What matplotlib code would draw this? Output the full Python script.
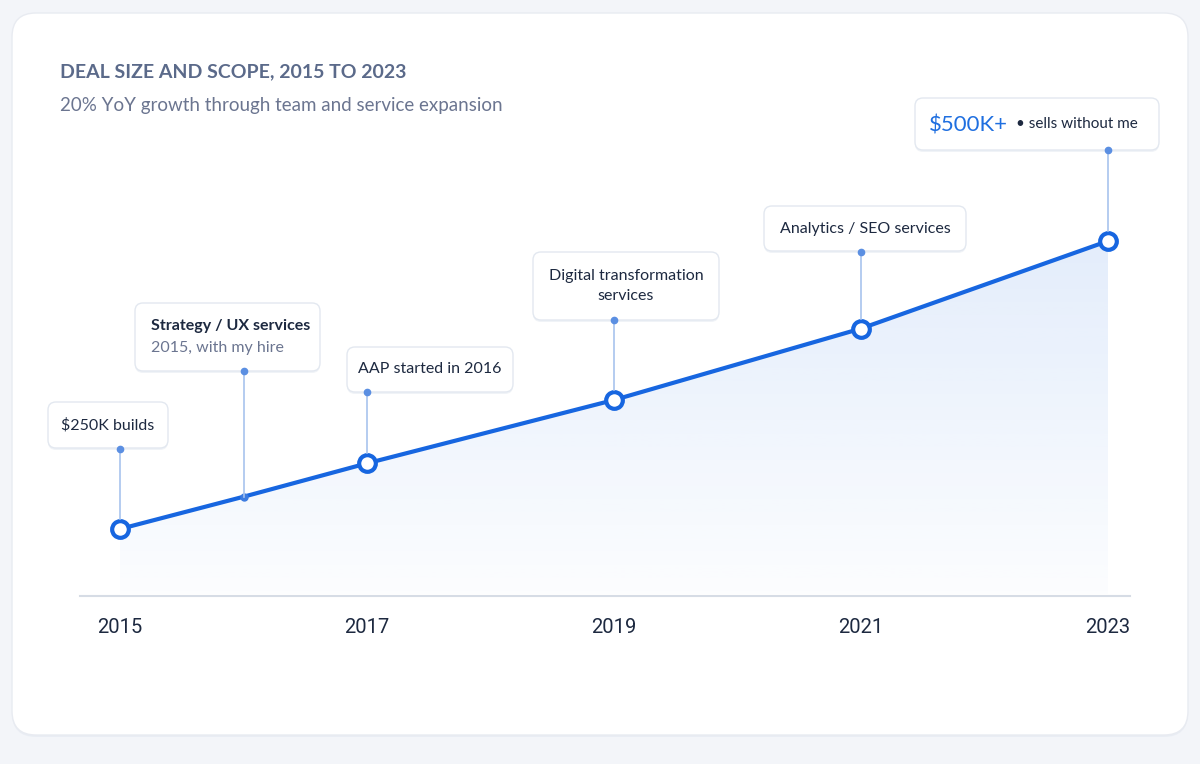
import matplotlib
matplotlib.use("Agg")
import matplotlib.pyplot as plt
import numpy as np
from matplotlib.patches import FancyBboxPatch
from matplotlib.transforms import Affine2D

plt.rcParams["font.family"] = ["Lato", "DejaVu Sans"]

# data (deal size, $K)
years = [2015, 2016, 2017, 2019, 2021, 2023]
deal_size = [250, 278, 307, 362, 424, 500]
tick_years = [2015, 2017, 2019, 2021, 2023]

title = "DEAL SIZE AND SCOPE, 2015 TO 2023"
subtitle = "20% YoY growth through team and service expansion"

LINE = "#1766e0"
NAVY = "#1d2940"
STEM = "#a8c3ee"

W, H = 1200, 764
fig = plt.figure(figsize=(W / 100, H / 100), dpi=100)
fig.patch.set_facecolor("#f3f5f9")
# pixel transform, origin top-left
px = Affine2D().scale(1 / W, -1 / H).translate(0, 1) + fig.transFigure


def card(x, y, w, h, r, shadow=True, ec="#e3e8f0", z=1):
    if shadow:
        fig.patches.append(FancyBboxPatch((x, y + 2), w, h, boxstyle=f"round,pad=0,rounding_size={r}",
                                          transform=px, fc="#dfe5ee", ec="none", alpha=0.45, zorder=z - 0.1))
    fig.patches.append(FancyBboxPatch((x, y), w, h, boxstyle=f"round,pad=0,rounding_size={r}",
                                      transform=px, fc="white", ec=ec, lw=1, zorder=z))


# main card
card(12, 13, 1176, 722, 24, ec="#e8ebf1", z=-1)

fig.text(60, 72, title, transform=px, fontsize=14, fontweight="bold", color="#5b6a8a",
         va="center", ha="left")
fig.text(60, 106, subtitle, transform=px, fontsize=13.5, color="#6b7590", va="center", ha="left")

# axes area: baseline at y=596 px, x 80..1130 px
x_left, x_right, y_base, y_top = 80, 1130, 596, 90
ax = fig.add_axes([x_left / W, 1 - y_base / H, (x_right - x_left) / W, (y_base - y_top) / H])
ax.set_zorder(0)
ax.set_facecolor("none")
ppy = (1108 - 120) / (tick_years[-1] - tick_years[0])
ax.set_xlim(tick_years[0] - (120 - x_left) / ppy, tick_years[-1] + (x_right - 1108) / ppy)
ppk = (529 - 241) / (deal_size[-1] - deal_size[0])
ax.set_ylim(deal_size[0] - (y_base - 529) / ppk, deal_size[-1] + (241 - y_top) / ppk)
for s in ax.spines.values():
    s.set_visible(False)
ax.spines["bottom"].set_visible(True)
ax.spines["bottom"].set_color("#d6dce5")
ax.spines["bottom"].set_linewidth(1.5)
ax.set_yticks([])
ax.set_xticks(tick_years)
ax.set_xticklabels([str(y) for y in tick_years], fontsize=14.5, color=NAVY,
                   family=["Roboto", "DejaVu Sans"])
ax.tick_params(axis="x", length=0, pad=16)

# gradient area under the line
y0 = ax.get_ylim()[0]
poly = ax.fill_between(years, deal_size, y0, facecolor="none", edgecolor="none")
grad = np.zeros((256, 1, 4))
c = matplotlib.colors.to_rgb(LINE)
grad[..., :3] = c
grad[:, 0, 3] = np.linspace(0.015, 0.12, 256)
img = ax.imshow(grad, extent=[years[0], years[-1], y0 + 2, max(deal_size)], origin="lower",
                aspect="auto", zorder=1)
img.set_clip_path(poly.get_paths()[0], transform=ax.transData)

ax.plot(years, deal_size, color=LINE, lw=3, zorder=3, solid_capstyle="round")
major = [i for i, y in enumerate(years) if y in tick_years]
ax.plot([years[i] for i in major], [deal_size[i] for i in major], "o", ms=12, mfc="white",
        mec=LINE, mew=3, zorder=4)
minor = [i for i, y in enumerate(years) if y not in tick_years]
ax.plot([years[i] for i in minor], [deal_size[i] for i in minor], "o", ms=5, color="#3d7ce0", zorder=4)

# annotations: point index, stem top (px), box (x, y, w, h) in px
notes = [
    (0, 449, (48, 402, 120, 46)),
    (1, 371, (135, 303, 185, 68)),
    (2, 392, (347, 347, 166, 45)),
    (3, 320, (533, 252, 186, 68)),
    (4, 252, (764, 206, 202, 45)),
    (5, 150, (915, 98, 244, 52)),
]
for idx, top, (bx, by, bw, bh) in notes:
    disp = ax.transData.transform((years[idx], deal_size[idx]))
    sx, sy = px.inverted().transform(disp)
    gap = 10 if idx in major else 0
    fig.lines.append(plt.Line2D([sx, sx], [top, sy - gap], transform=px, color=STEM, lw=1.2, zorder=2))
    fig.lines.append(plt.Line2D([sx], [top], transform=px, marker="o", ms=4.5, color="#5b8fe2", zorder=2))
    card(bx, by, bw, bh, 8, z=1.5)

fs = 11.5
fig.text(108, 425, "$250K builds", transform=px, fontsize=fs, color=NAVY, ha="center", va="center", zorder=3)
fig.text(151, 326, "Strategy / UX services", transform=px, fontsize=fs, fontweight="bold", color=NAVY,
         ha="left", va="center", zorder=3)
fig.text(151, 348, "2015, with my hire", transform=px, fontsize=fs, color="#6b7590",
         ha="left", va="center", zorder=3)
fig.text(430, 369, "AAP started in 2016", transform=px, fontsize=fs, color=NAVY, ha="center", va="center", zorder=3)
fig.text(626, 286, "Digital transformation\nservices", transform=px, fontsize=fs, color=NAVY,
         ha="center", va="center", linespacing=1.55, zorder=3)
fig.text(865, 229, "Analytics / SEO services", transform=px, fontsize=fs, color=NAVY, ha="center", va="center",
         zorder=3)
fig.text(929, 125, "$500K+", transform=px, fontsize=16, color="#1f6fe0", ha="left", va="center", zorder=3)
fig.text(1016, 124, "• sells without me", transform=px, fontsize=11, color=NAVY, ha="left", va="center", zorder=3)

fig.savefig("out.png", dpi=100, facecolor=fig.get_facecolor())
